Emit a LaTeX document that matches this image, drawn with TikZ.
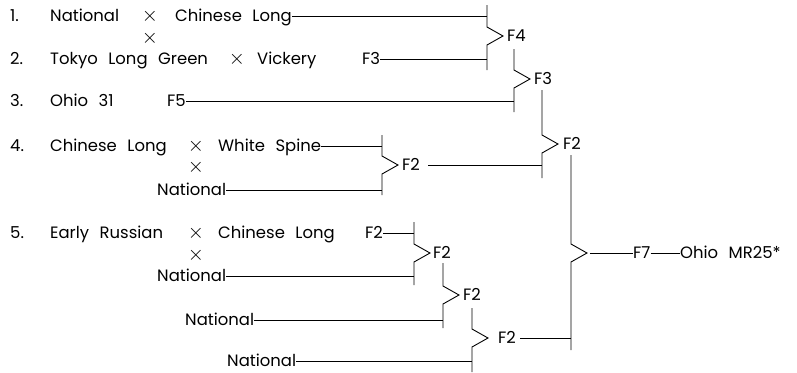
\documentclass[tikz,border=0pt]{standalone}
\usepackage{fontspec}
\setmainfont{Poppins}[WordSpace=2.4]
\newcommand\pbrk[5]{% name, x, top, mid, bottom
  \coordinate (#1t) at (#2,#3);
  \coordinate (#1a) at (#2,#4-9);
  \coordinate (#1p) at (#2+16,#4);
  \coordinate (#1b) at (#2,#4+9);
  \coordinate (#1e) at (#2,#5);
  \draw[ln] (#1t) -- (#1a) -- (#1p) -- (#1b) -- (#1e);
}
\begin{document}
\begin{tikzpicture}[x=1bp,y=-1bp,
  ln/.style={line width=0.9bp, black},
  txt/.style={inner sep=0pt, anchor=west, text height=11.5bp, text depth=0pt,
    font=\fontsize{16.5}{16.5}\selectfont},
  crs/.style={inner sep=0pt, anchor=center, text height=10bp, text depth=0pt,
    font=\fontsize{21}{21}\selectfont}]
\useasboundingbox (0,0) rectangle (797,372);

% ---------- brackets ----------
\pbrk{bA}{487}{5}{36}{70}
\pbrk{bB}{514}{49}{79}{112}
\pbrk{bC}{542}{90}{144}{178}
\pbrk{bD}{382}{135}{165}{195}
\pbrk{bE}{414}{222}{253}{285}
\pbrk{bF}{443}{263}{295}{328}
\pbrk{bG}{472}{308}{338}{372}
\pbrk{bH}{571}{155}{253}{350}

% ---------- row 1 ----------
\node[txt] (n1) at (10,16) {1.};
\node[txt] (a1) at (50,16) {National};
\node[crs] (c1) at (150,16) {$\times$};
\node[txt] (b1) at (175,16) {Chinese Long};
\node[crs] (c1d) at (150,38) {$\times$};
\draw[ln] (b1.east) -- (b1.east -| bAt);

% ---------- row 2 ----------
\node[txt] (n2) at (10,59) {2.};
\node[txt] (a2) at (50,59) {Tokyo Long Green};
\node[crs] (c2) at (237,59) {$\times$};
\node[txt] (b2) at (257,59) {Vickery};
\node[txt] (f2) at (362,59) {F3};
\draw[ln] (f2.east) -- (f2.east -| bAe);

% ---------- row 3 ----------
\node[txt] (n3) at (10,101) {3.};
\node[txt] (a3) at (50,101) {Ohio 31};
\node[txt] (f3) at (167,101) {F5};
\draw[ln] (f3.east) -- (f3.east -| bBe);

% ---------- row 4 ----------
\node[txt] (n4) at (10,146) {4.};
\node[txt] (a4) at (50,146) {Chinese Long};
\node[crs] (c4) at (196,146) {$\times$};
\node[txt] (b4) at (218,146) {White Spine};
\draw[ln] (b4.east) -- (b4.east -| bDt);
\node[crs] (c4d) at (196,167) {$\times$};
\node[txt] (d4) at (157,190) {National};
\draw[ln] (d4.east) -- (d4.east -| bDe);

% ---------- row 5 ----------
\node[txt] (n5) at (10,233) {5.};
\node[txt] (a5) at (50,233) {Early Russian};
\node[crs] (c5) at (196,233) {$\times$};
\node[txt] (b5) at (218,233) {Chinese Long};
\node[txt] (f5) at (365,233) {F2};
\draw[ln] (f5.east) -- (f5.east -| bEt);
\node[crs] (c5d) at (196,255) {$\times$};
\node[txt] (d5) at (157,276) {National};
\draw[ln] (d5.east) -- (d5.east -| bEe);

% ---------- rows 6, 7 ----------
\node[txt] (d6) at (185,320) {National};
\draw[ln] (d6.east) -- (d6.east -| bFe);
\node[txt] (d7) at (227,361) {National};
\draw[ln] (d7.east) -- (d7.east -| bGe);

% ---------- bracket outputs ----------
\node[txt] (oA) at ([xshift=4]bAp) {F4};
\node[txt] (oB) at ([xshift=4]bBp) {F3};
\node[txt] (oC) at ([xshift=5]bCp) {F2};
\node[txt] (oD) at ([xshift=4]bDp) {F2};
\node[txt] (oE) at ([xshift=3]bEp) {F2};
\node[txt] (oF) at ([xshift=4]bFp) {F2};
\node[txt] (oG) at ([xshift=10]bGp) {F2};
\draw[ln] ([xshift=8]oD.east) -- (oD.east -| bCe);
\draw[ln] ([xshift=4]oG.east) -- (oG.east -| bHe);

% ---------- final ----------
\node[txt] (f7) at (633,253) {F7};
\node[txt] (res) at (680,253) {Ohio MR25*};
\draw[ln] ([xshift=3]bHp) -- (f7.west);
\draw[ln] (f7.east) -- (res.west);
\end{tikzpicture}
\end{document}
